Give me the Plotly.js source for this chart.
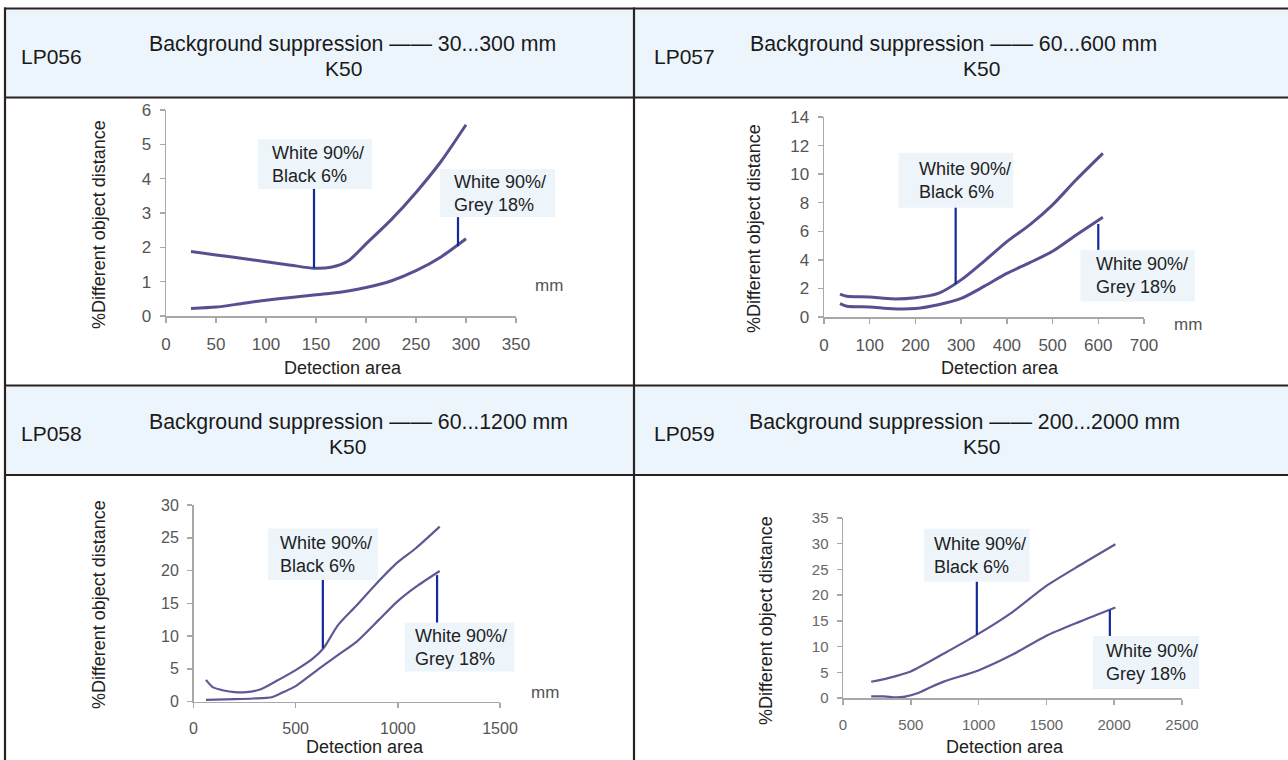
<!DOCTYPE html>
<html>
<head>
<meta charset="utf-8">
<script src="https://cdn.plot.ly/plotly-3.0.1.min.js"></script>
<style>
html,body{margin:0;padding:0;background:#ffffff;}
#chart{width:1288px;height:760px;}
</style>
</head>
<body>
<div id="chart"></div>
<script>
// ---------------- DATA ----------------
// LP056 (30...300 mm)
const lp056X      = [25, 50, 75, 100, 125, 148, 165, 182, 200, 225, 250, 275, 300];
const lp056Black  = [1.88, 1.78, 1.68, 1.58, 1.48, 1.39, 1.42, 1.6, 2.1, 2.8, 3.6, 4.5, 5.57];
const lp056Grey   = [0.22, 0.26, 0.36, 0.46, 0.54, 0.61, 0.66, 0.73, 0.83, 1.02, 1.32, 1.72, 2.25];
const lp056Ticks  = [0, 50, 100, 150, 200, 250, 300, 350];
const lp056YTicks = [0, 1, 2, 3, 4, 5, 6];

// LP057 (60...600 mm)
const lp057X      = [35, 50, 100, 150, 200, 250, 300, 350, 400, 450, 500, 550, 610];
const lp057Black  = [1.6, 1.45, 1.4, 1.27, 1.35, 1.65, 2.6, 3.9, 5.28, 6.45, 7.85, 9.55, 11.45];
const lp057Grey   = [0.93, 0.75, 0.7, 0.58, 0.6, 0.86, 1.3, 2.14, 3.05, 3.8, 4.6, 5.7, 6.98];
const lp057Ticks  = [0, 100, 200, 300, 400, 500, 600, 700];
const lp057YTicks = [0, 2, 4, 6, 8, 10, 12, 14];

// LP058 (60...1200 mm)
const lp058BlackX = [61, 94, 148, 202, 257, 329, 401, 502, 582, 636, 708, 799, 889, 997, 1088, 1205];
const lp058Black  = [3.3, 2.2, 1.68, 1.42, 1.42, 1.88, 3.05, 4.83, 6.5, 8.13, 11.7, 14.7, 17.8, 21.2, 23.4, 26.7];
const lp058GreyX  = [61, 202, 293, 383, 437, 502, 618, 708, 799, 907, 997, 1088, 1205];
const lp058Grey   = [0.25, 0.36, 0.46, 0.65, 1.4, 2.39, 5.08, 7.12, 9.15, 12.46, 15.25, 17.5, 19.93];
const lp058Ticks  = [0, 500, 1000, 1500];
const lp058YTicks = [0, 5, 10, 15, 20, 25, 30];

// LP059 (200...2000 mm)
const lp059BlackX = [208, 333, 499, 748, 998, 1247, 1497, 1746, 2009];
const lp059Black  = [3.16, 3.87, 5.16, 8.7, 12.46, 16.66, 21.75, 25.8, 29.9];
const lp059GreyX  = [208, 305, 388, 457, 554, 650, 748, 998, 1247, 1497, 1746, 2009];
const lp059Grey   = [0.32, 0.32, 0.13, 0.26, 0.97, 2.15, 3.23, 5.36, 8.39, 12.07, 14.85, 17.6];
const lp059Ticks  = [0, 500, 1000, 1500, 2000, 2500];
const lp059YTicks = [0, 5, 10, 15, 20, 25, 30, 35];

// Texts
const panelCodes  = ['LP056', 'LP057', 'LP058', 'LP059'];
const titleLine1  = ['Background suppression \u2014\u2014 30...300 mm',
                     'Background suppression \u2014\u2014 60...600 mm',
                     'Background suppression \u2014\u2014 60...1200 mm',
                     'Background suppression \u2014\u2014 200...2000 mm'];
const titleLine2  = 'K50';
const labelBlack  = 'White 90%/<br>Black 6%';
const labelGrey   = 'White 90%/<br>Grey 18%';
const xTitle      = 'Detection area';
const yTitle      = '%Different object distance';
const unitLabel   = 'mm';

// ---------------- LAYOUT / STYLE ----------------
const W = 1288, H = 760;
const px = x => x / W;
const py = y => 1 - y / H;
const FONT = 'Liberation Sans, Arial, sans-serif';

const panels = [
  { x: lp056X, bx: lp056X, black: lp056Black, grey: lp056Grey, ticks: lp056Ticks, yticks: lp056YTicks,
    pxX: [166, 516], pxY: [316, 110], range: [0, 350], yrange: [0, 6],
    curveW: 3, curveC: '#575090', tickSize: 17, tickColor: '#555',
    code: [19, 56], t1: [352, 44], t2: [343, 68],
    xt: [343, 368], yt: [99, 225], mm: [549, 286],
    boxB: [92, 206, 3.70, 5.15], leadB: [148, 1.40, 3.70], padB: 12,
    boxG: [274, 389, 2.88, 4.28], leadG: [292, 2.03, 2.88], padG: 12 },
  { x: lp057X, bx: lp057X, black: lp057Black, grey: lp057Grey, ticks: lp057Ticks, yticks: lp057YTicks,
    pxX: [824, 1144], pxY: [317, 117], range: [0, 700], yrange: [0, 14],
    curveW: 3, curveC: '#575090', tickSize: 17, tickColor: '#555',
    code: [652, 56], t1: [953, 44], t2: [981, 68],
    xt: [1000, 368], yt: [754, 229], mm: [1188, 324],
    boxB: [163, 414, 7.65, 11.5], leadB: [288, 2.3, 7.65], padB: 18,
    boxG: [561, 811, 1.09, 4.70], leadG: [600, 4.70, 6.51], padG: 14 },
  { x: lp058GreyX, bx: lp058BlackX, black: lp058Black, grey: lp058Grey, ticks: lp058Ticks, yticks: lp058YTicks,
    pxX: [193.5, 500], pxY: [701.5, 505], range: [0, 1500], yrange: [0, 30],
    curveW: 2.2, curveC: '#605895', tickSize: 16, tickColor: '#555',
    code: [19, 433], t1: [358, 422], t2: [347, 446],
    xt: [365, 747], yt: [99, 605], mm: [545, 692],
    boxB: [365, 902, 18.56, 26.4], leadB: [633, 8.13, 18.56], padB: 10,
    boxG: [1034, 1571, 4.58, 12.05], leadG: [1192, 12.05, 19.3], padG: 8 },
  { x: lp059GreyX, bx: lp059BlackX, black: lp059Black, grey: lp059Grey, ticks: lp059Ticks, yticks: lp059YTicks,
    pxX: [843, 1182], pxY: [698, 518], range: [0, 2500], yrange: [0, 35],
    curveW: 2.2, curveC: '#605895', tickSize: 15, tickColor: '#666',
    code: [652, 433], t1: [964, 422], t2: [981, 446],
    xt: [1005, 747], yt: [766, 621], mm: null,
    boxB: [596, 1377, 22.6, 32.9], leadB: [987, 12.27, 22.6], padB: 8,
    boxG: [1843, 2627, 1.74, 12.07], leadG: [1968, 12.07, 17.1], padG: 11 }
];

const data = [];
const layout = {
  width: W, height: H,
  margin: {l: 0, r: 0, t: 0, b: 0},
  paper_bgcolor: '#ffffff',
  plot_bgcolor: 'rgba(0,0,0,0)',
  showlegend: false,
  font: {family: FONT, color: '#222'},
  shapes: [],
  annotations: []
};

const HEADER_BG = '#edf5fc';
const BORDER = '#2a2220';
const BOX_BG = '#edf5fb';
const LEAD = '#13299a';

// header backgrounds
[[9, 97], [386, 475]].forEach(([a, b]) => {
  layout.shapes.push({type: 'rect', xref: 'paper', yref: 'paper', x0: px(5), x1: px(1288), y0: py(b), y1: py(a),
    fillcolor: HEADER_BG, line: {width: 0}, layer: 'below'});
});
// borders
[8.5, 97.5, 385.5, 475].forEach(y => {
  layout.shapes.push({type: 'line', xref: 'paper', yref: 'paper', x0: px(4), x1: px(1288), y0: py(y), y1: py(y),
    line: {color: BORDER, width: 2.2}});
});
[5, 634].forEach(x => {
  layout.shapes.push({type: 'line', xref: 'paper', yref: 'paper', x0: px(x), x1: px(x), y0: py(7.5), y1: py(760),
    line: {color: BORDER, width: 2.2}});
});

panels.forEach((p, i) => {
  const n = i + 1;
  const xa = n === 1 ? 'x' : 'x' + n;
  const ya = n === 1 ? 'y' : 'y' + n;
  const xk = n === 1 ? 'xaxis' : 'xaxis' + n;
  const yk = n === 1 ? 'yaxis' : 'yaxis' + n;

  const toPX = xd => p.pxX[0] + (xd - p.range[0]) / (p.range[1] - p.range[0]) * (p.pxX[1] - p.pxX[0]);
  const toPY = yd => p.pxY[0] + (yd - p.yrange[0]) / (p.yrange[1] - p.yrange[0]) * (p.pxY[1] - p.pxY[0]);

  layout[xk] = {
    domain: [px(p.pxX[0]), px(p.pxX[1])], range: p.range, anchor: ya,
    showgrid: false, zeroline: false, showline: true, linecolor: '#a8a8a8', linewidth: 1.5,
    ticks: 'outside', ticklen: 5, tickwidth: 1.5, tickcolor: '#a8a8a8',
    tickmode: 'array', tickvals: p.ticks, ticktext: p.ticks.map(String),
    tickfont: {family: FONT, size: p.tickSize, color: p.tickColor}, ticklabelstandoff: 7,
    fixedrange: true
  };
  layout[yk] = {
    domain: [py(p.pxY[0]), py(p.pxY[1])], range: p.yrange, anchor: xa,
    showgrid: false, zeroline: false, showline: true, linecolor: '#a8a8a8', linewidth: 1.5,
    ticks: 'outside', ticklen: 5, tickwidth: 1.5, tickcolor: '#a8a8a8',
    tickmode: 'array', tickvals: p.yticks, ticktext: p.yticks.map(String),
    tickfont: {family: FONT, size: p.tickSize, color: p.tickColor}, ticklabelstandoff: 5,
    fixedrange: true
  };

  data.push({type: 'scatter', mode: 'lines', x: p.bx, y: p.black, xaxis: xa, yaxis: ya,
    line: {color: p.curveC, width: p.curveW, shape: 'spline', smoothing: 0.7}, hoverinfo: 'skip'});
  data.push({type: 'scatter', mode: 'lines', x: p.x, y: p.grey, xaxis: xa, yaxis: ya,
    line: {color: p.curveC, width: p.curveW, shape: 'spline', smoothing: 0.7}, hoverinfo: 'skip'});

  // label boxes
  [[p.boxB, labelBlack, p.padB], [p.boxG, labelGrey, p.padG]].forEach(([b, txt, pad]) => {
    const x0 = toPX(b[0]), x1 = toPX(b[1]), yb = toPY(b[2]), yt = toPY(b[3]);
    layout.shapes.push({type: 'rect', xref: 'paper', yref: 'paper', x0: px(x0), x1: px(x1), y0: py(yb), y1: py(yt),
      fillcolor: BOX_BG, line: {width: 0}});
    layout.annotations.push({xref: 'paper', yref: 'paper', x: px(x0 + pad), y: py((yb + yt) / 2),
      xanchor: 'left', yanchor: 'middle', align: 'left', showarrow: false, text: txt,
      font: {family: FONT, size: 18, color: '#222'}});
  });
  // leader lines
  [p.leadB, p.leadG].forEach(l => {
    layout.shapes.push({type: 'line', xref: 'paper', yref: 'paper',
      x0: px(toPX(l[0])), x1: px(toPX(l[0])), y0: py(toPY(l[1])), y1: py(toPY(l[2])),
      line: {color: LEAD, width: 2.2}});
  });

  // header texts
  layout.annotations.push({xref: 'paper', yref: 'paper', x: px(p.code[0]), y: py(p.code[1]),
    xanchor: 'left', yanchor: 'middle', showarrow: false, text: panelCodes[i],
    font: {family: FONT, size: 21, color: '#1a1a1a'}});
  layout.annotations.push({xref: 'paper', yref: 'paper', x: px(p.t1[0]), y: py(p.t1[1]),
    xanchor: 'center', yanchor: 'middle', showarrow: false, text: titleLine1[i],
    font: {family: FONT, size: 21.3, color: '#1a1a1a'}});
  layout.annotations.push({xref: 'paper', yref: 'paper', x: px(p.t2[0]), y: py(p.t2[1]),
    xanchor: 'center', yanchor: 'middle', showarrow: false, text: titleLine2,
    font: {family: FONT, size: 21, color: '#1a1a1a'}});

  // axis titles
  layout.annotations.push({xref: 'paper', yref: 'paper', x: px(p.xt[0]), y: py(p.xt[1]),
    xanchor: 'center', yanchor: 'middle', showarrow: false, text: xTitle,
    font: {family: FONT, size: 18, color: '#222'}});
  layout.annotations.push({xref: 'paper', yref: 'paper', x: px(p.yt[0]), y: py(p.yt[1]),
    xanchor: 'center', yanchor: 'middle', showarrow: false, text: yTitle, textangle: -90,
    font: {family: FONT, size: 18, color: '#222'}});
  if (p.mm) {
    layout.annotations.push({xref: 'paper', yref: 'paper', x: px(p.mm[0]), y: py(p.mm[1]),
      xanchor: 'center', yanchor: 'middle', showarrow: false, text: unitLabel,
      font: {family: FONT, size: 17, color: '#555'}});
  }
});

Plotly.newPlot('chart', data, layout, {staticPlot: true, displayModeBar: false});
</script>
</body>
</html>
